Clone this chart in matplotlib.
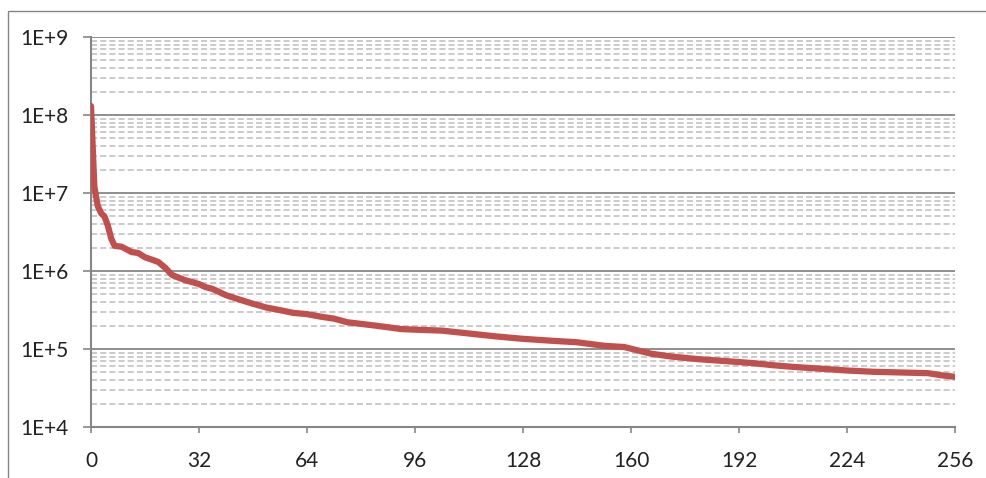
import math
import matplotlib
matplotlib.use("Agg")
import matplotlib.pyplot as plt
from matplotlib.patches import Rectangle
from matplotlib.ticker import FixedLocator, FuncFormatter, LogLocator

# valores
pos = [0, 1, 2, 3, 4, 5, 6, 7, 9, 10, 12, 14, 16, 18, 20, 22, 24, 26, 28, 30,
       32, 34, 36, 40, 44, 48, 52, 56, 60, 64, 68, 72, 76, 80, 84, 88, 92, 96,
       104, 112, 120, 128, 136, 144, 152, 158, 162, 166, 172, 180, 188, 196,
       202, 208, 216, 224, 232, 240, 248, 252, 256]
valores = [1.3e8, 1.2e7, 6.8e6, 5.5e6, 5.0e6, 3.8e6, 2.6e6, 2.1e6, 2.05e6,
           1.95e6, 1.75e6, 1.7e6, 1.5e6, 1.4e6, 1.3e6, 1.1e6, 8.9e5, 8.2e5,
           7.6e5, 7.2e5, 6.8e5, 6.2e5, 5.9e5, 4.9e5, 4.3e5, 3.8e5, 3.4e5,
           3.15e5, 2.9e5, 2.8e5, 2.6e5, 2.45e5, 2.2e5, 2.1e5, 2.0e5, 1.9e5,
           1.8e5, 1.77e5, 1.72e5, 1.58e5, 1.45e5, 1.35e5, 1.28e5, 1.22e5,
           1.1e5, 1.06e5, 9.6e4, 8.7e4, 8.0e4, 7.4e4, 7.0e4, 6.6e4, 6.2e4,
           5.9e4, 5.6e4, 5.3e4, 5.1e4, 5.0e4, 4.9e4, 4.6e4, 4.4e4]
xticks = [0, 32, 64, 96, 128, 160, 192, 224, 256]

plt.rcParams['font.family'] = ['Lato', 'DejaVu Sans']

fig = plt.figure(figsize=(9.86, 4.78), dpi=100)
ax = fig.add_axes([91/986, 1 - 427/478, (955 - 91)/986, (427 - 37)/478])

gris = '#868686'
ax.set_yscale('log')
ax.set_ylim(1e4, 1e9)
ax.set_xlim(0, 256)

ax.yaxis.set_major_locator(LogLocator(base=10, numticks=10))
ax.yaxis.set_minor_locator(LogLocator(base=10, subs=range(2, 10), numticks=20))
ax.yaxis.set_major_formatter(FuncFormatter(lambda v, p: '1E+%d' % round(math.log10(v))))
ax.yaxis.set_minor_formatter(FuncFormatter(lambda v, p: ''))
ax.xaxis.set_major_locator(FixedLocator(xticks))

ax.grid(True, which='major', axis='y', color=gris, lw=1.3, ls='-')
ax.grid(True, which='minor', axis='y', color='#BDBDBD', lw=1.1, ls=(0, (4, 2)))
ax.set_axisbelow(True)

ax.plot(pos, valores, color='#C0504D', lw=4.5, solid_capstyle='round',
        solid_joinstyle='round', zorder=3)

for s in ['top', 'right']:
    ax.spines[s].set_visible(False)
for s in ['left', 'bottom']:
    ax.spines[s].set_color(gris)
    ax.spines[s].set_linewidth(1.5)

ax.tick_params(axis='y', which='major', length=6, width=1.2, color=gris,
               labelsize=15, labelcolor='#222222', pad=10)
ax.tick_params(axis='y', which='minor', length=0)
ax.tick_params(axis='x', which='major', length=4, width=1.2, color=gris,
               labelsize=15, labelcolor='#222222', pad=13)

# marco exterior
fig.patches.append(Rectangle((8/986, -0.1), 1.2, 1.1 - 11/478, transform=fig.transFigure,
                             fill=False, edgecolor=gris, lw=1.0))

fig.savefig('out.png', dpi=100)
